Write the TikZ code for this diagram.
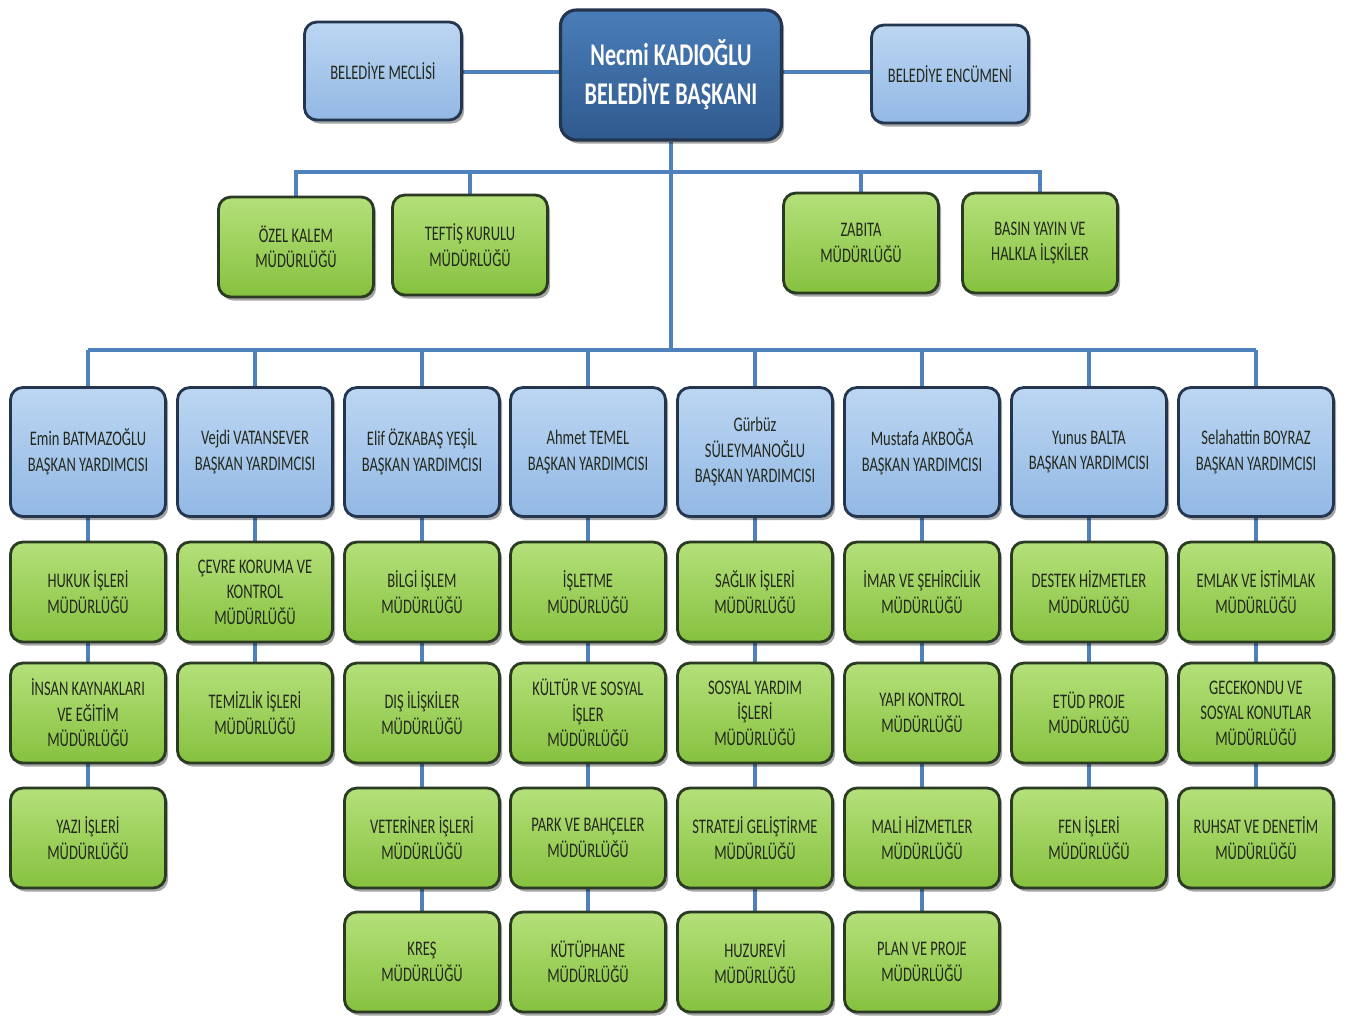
\documentclass[tikz,border=0pt]{standalone}
\usepackage{fontspec}
\setmainfont[FakeStretch=0.7]{Carlito}
\usepackage{xcolor}
\usetikzlibrary{shadows,backgrounds}

\definecolor{yesilust}{HTML}{B4E07A}
\definecolor{yesilalt}{HTML}{86C13F}
\definecolor{yesilkenar}{HTML}{2B3A22}
\definecolor{maviust}{HTML}{BCD6F2}
\definecolor{mavialt}{HTML}{92B8E4}
\definecolor{mavikenar}{HTML}{24364F}
\definecolor{koyuust}{HTML}{4A7DB8}
\definecolor{koyualt}{HTML}{2F5A8E}
\definecolor{cizgi}{HTML}{4F81BD}
\definecolor{yazi}{HTML}{24291E}

\begin{document}
\begin{tikzpicture}[x=0.02cm,y=-0.02cm,
    golge/.style={drop shadow={shadow xshift=1.5pt,shadow yshift=-2pt,opacity=0.35,fill=black}},
    mudur/.style={golge,draw=yesilkenar,line width=1.6pt,rounded corners=7pt,
        top color=yesilust,bottom color=yesilalt,text=yazi,align=center,
        minimum width=3.1cm,minimum height=2cm,font=\fontsize{11.8}{14.5}\selectfont},
    yard/.style={mudur,draw=mavikenar,top color=maviust,bottom color=mavialt,
        minimum height=2.58cm},
    kurul/.style={yard,minimum width=3.14cm,minimum height=1.96cm},
    baskan/.style={golge,draw=mavikenar,line width=1.8pt,rounded corners=9pt,
        top color=koyuust,bottom color=koyualt,text=white,align=center,
        minimum width=4.42cm,minimum height=2.6cm,font=\bfseries\fontsize{18}{22}\selectfont},
    hat/.style={color=cizgi,line width=2.3pt}]
\useasboundingbox (0,0) rectangle (1346,1015);

% en ust sira
\node[baskan] (bsk) at (671,75) {Necmi KADIOĞLU\\BELEDİYE BAŞKANI};
\node[kurul] (mec) at (383,71) {BELEDİYE MECLİSİ};
\node[kurul] (enc) at (950,74) {BELEDİYE ENCÜMENİ};

% baskana bagli mudurlukler
\node[mudur] (ozel) at (296,247) {ÖZEL KALEM\\MÜDÜRLÜĞÜ};
\node[mudur] (teftis) at (470,245) {TEFTİŞ KURULU\\MÜDÜRLÜĞÜ};
\node[mudur] (zabita) at (861,243) {ZABITA\\MÜDÜRLÜĞÜ};
\node[mudur] (basin) at (1040,243) {BASIN YAYIN VE\\HALKLA İLŞKİLER};

% baskan yardimcilari
\node[yard] (by1) at (88,452) {Emin BATMAZOĞLU\\BAŞKAN YARDIMCISI};
\node[yard] (by2) at (255,452) {Vejdi VATANSEVER\\BAŞKAN YARDIMCISI};
\node[yard] (by3) at (422,452) {Elif ÖZKABAŞ YEŞİL\\BAŞKAN YARDIMCISI};
\node[yard] (by4) at (588,452) {Ahmet TEMEL\\BAŞKAN YARDIMCISI};
\node[yard] (by5) at (755,452) {Gürbüz\\SÜLEYMANOĞLU\\BAŞKAN YARDIMCISI};
\node[yard] (by6) at (922,452) {Mustafa AKBOĞA\\BAŞKAN YARDIMCISI};
\node[yard] (by7) at (1089,452) {Yunus BALTA\\BAŞKAN YARDIMCISI};
\node[yard] (by8) at (1256,452) {Selahattin BOYRAZ\\BAŞKAN YARDIMCISI};

% 1. sutun
\node[mudur] (hukuk) at (88,592) {HUKUK İŞLERİ\\MÜDÜRLÜĞÜ};
\node[mudur] (insan) at (88,713) {İNSAN KAYNAKLARI\\VE EĞİTİM\\MÜDÜRLÜĞÜ};
\node[mudur] (yazi) at (88,838) {YAZI İŞLERİ\\MÜDÜRLÜĞÜ};
% 2. sutun
\node[mudur] (cevre) at (255,592) {ÇEVRE KORUMA VE\\KONTROL\\MÜDÜRLÜĞÜ};
\node[mudur] (temiz) at (255,713) {TEMİZLİK İŞLERİ\\MÜDÜRLÜĞÜ};
% 3. sutun
\node[mudur] (bilgi) at (422,592) {BİLGİ İŞLEM\\MÜDÜRLÜĞÜ};
\node[mudur] (dis) at (422,713) {DIŞ İLİŞKİLER\\MÜDÜRLÜĞÜ};
\node[mudur] (vet) at (422,838) {VETERİNER İŞLERİ\\MÜDÜRLÜĞÜ};
\node[mudur] (kres) at (422,962) {KREŞ\\MÜDÜRLÜĞÜ};
% 4. sutun
\node[mudur] (islet) at (588,592) {İŞLETME\\MÜDÜRLÜĞÜ};
\node[mudur] (kultur) at (588,713) {KÜLTÜR VE SOSYAL\\İŞLER\\MÜDÜRLÜĞÜ};
\node[mudur] (park) at (588,838) {PARK VE BAHÇELER\\MÜDÜRLÜĞÜ};
\node[mudur] (kutup) at (588,962) {KÜTÜPHANE\\MÜDÜRLÜĞÜ};
% 5. sutun
\node[mudur] (saglik) at (755,592) {SAĞLIK İŞLERİ\\MÜDÜRLÜĞÜ};
\node[mudur] (sosyal) at (755,713) {SOSYAL YARDIM\\İŞLERİ\\MÜDÜRLÜĞÜ};
\node[mudur] (strat) at (755,838) {STRATEJİ GELİŞTİRME\\MÜDÜRLÜĞÜ};
\node[mudur] (huzur) at (755,962) {HUZUREVİ\\MÜDÜRLÜĞÜ};
% 6. sutun
\node[mudur] (imar) at (922,592) {İMAR VE ŞEHİRCİLİK\\MÜDÜRLÜĞÜ};
\node[mudur] (yapi) at (922,713) {YAPI KONTROL\\MÜDÜRLÜĞÜ};
\node[mudur] (mali) at (922,838) {MALİ HİZMETLER\\MÜDÜRLÜĞÜ};
\node[mudur] (plan) at (922,962) {PLAN VE PROJE\\MÜDÜRLÜĞÜ};
% 7. sutun
\node[mudur] (destek) at (1089,592) {DESTEK HİZMETLER\\MÜDÜRLÜĞÜ};
\node[mudur] (etud) at (1089,713) {ETÜD PROJE\\MÜDÜRLÜĞÜ};
\node[mudur] (fen) at (1089,838) {FEN İŞLERİ\\MÜDÜRLÜĞÜ};
% 8. sutun
\node[mudur] (emlak) at (1256,592) {EMLAK VE İSTİMLAK\\MÜDÜRLÜĞÜ};
\node[mudur] (gecek) at (1256,713) {GECEKONDU VE\\SOSYAL KONUTLAR\\MÜDÜRLÜĞÜ};
\node[mudur] (ruhsat) at (1256,838) {RUHSAT VE DENETİM\\MÜDÜRLÜĞÜ};

% baglanti cizgileri
\begin{scope}[on background layer]
  \coordinate (ust) at (671,172);
  \coordinate (orta) at (671,350);
  \draw[hat] (mec.east |- 0,72) -- (bsk.west |- 0,72);
  \draw[hat] (enc.west |- 0,72) -- (bsk.east |- 0,72);
  \draw[hat] (bsk.south) -- (orta);
  \draw[hat] (ozel.north) -- (ozel.north |- ust) -- (basin.north |- ust) -- (basin.north);
  \draw[hat] (teftis.north) -- (teftis.north |- ust);
  \draw[hat] (zabita.north) -- (zabita.north |- ust);
  \draw[hat] (by1.north |- orta) -- (by8.north |- orta);
  \foreach \b in {by1,by2,by3,by4,by5,by6,by7,by8}
    \draw[hat] (\b.north) -- (\b.north |- orta);
  \draw[hat] (by1) -- (yazi);
  \draw[hat] (by2) -- (temiz);
  \draw[hat] (by3) -- (kres);
  \draw[hat] (by4) -- (kutup);
  \draw[hat] (by5) -- (huzur);
  \draw[hat] (by6) -- (plan);
  \draw[hat] (by7) -- (fen);
  \draw[hat] (by8) -- (ruhsat);
\end{scope}
\end{tikzpicture}
\end{document}
